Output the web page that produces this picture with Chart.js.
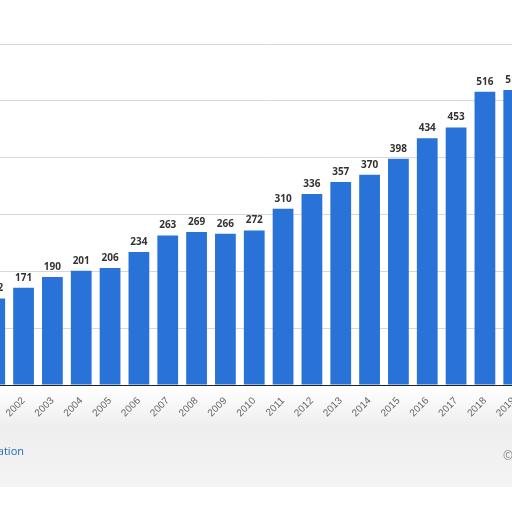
<!DOCTYPE html>
<html><head><meta charset="utf-8">
<script src="https://cdn.jsdelivr.net/npm/chart.js"></script>
<style>
html,body{margin:0;padding:0;width:512px;height:512px;overflow:hidden;background:#fff;font-family:"Open Sans",sans-serif;}
#wrap{position:absolute;left:-23.5px;top:0;width:580px;height:512px;}
#foot{position:absolute;left:-92px;top:443px;font-size:11px;color:#1c6bb5;}
#copy{position:absolute;left:503px;top:447px;font-size:12px;color:#888;}
#shade{position:absolute;left:0;top:387px;width:512px;height:100px;background:linear-gradient(#fff,#eee 40%,#f4f4f4);}
</style></head><body>
<div id="shade"></div>
<div id="wrap"><canvas id="c" width="580" height="512"></canvas></div>
<div id="foot">Additional Information</div>
<div id="copy">©</div>
<script>
const years=["2001","2002","2003","2004","2005","2006","2007","2008","2009","2010","2011","2012","2013","2014","2015","2016","2017","2018","2019","2020"];
const values=[152,171,190,201,206,234,263,269,266,272,310,336,357,370,398,434,453,516,519,null];
const labelPlugin={id:'lbl',afterDatasetsDraw(ch){
 const ctx=ch.ctx;const m=ch.getDatasetMeta(0);
 ctx.save();ctx.font='bold 10px "Open Sans",sans-serif';ctx.fillStyle='#333';ctx.textAlign='center';ctx.textBaseline='bottom';
 m.data.forEach((b,i)=>{if(values[i]!=null)ctx.fillText(values[i],b.x,b.y-5);});ctx.restore();}};
new Chart(document.getElementById('c'),{type:'bar',
 data:{labels:years,datasets:[{data:values,backgroundColor:'#2872d8',categoryPercentage:0.72,barPercentage:1}]},
 options:{responsive:false,animation:false,maintainAspectRatio:false,devicePixelRatio:1,
  layout:{padding:{top:44,left:0,right:0,bottom:0}},
  plugins:{legend:{display:false},tooltip:{enabled:false}},
  scales:{
   y:{display:true,min:0,max:600,ticks:{display:false,stepSize:100},border:{display:false},
      grid:{color:'#d8d8d8',lineWidth:1,tickLength:0,drawTicks:false},afterFit(s){s.width=0;}},
   x:{ticks:{color:'#666',font:{size:10},minRotation:45,maxRotation:45,padding:2,autoSkip:false},
      grid:{display:false},border:{color:'#222',width:1},afterFit(s){s.height=127;}}
  }},
 plugins:[labelPlugin]});
</script></body></html>
